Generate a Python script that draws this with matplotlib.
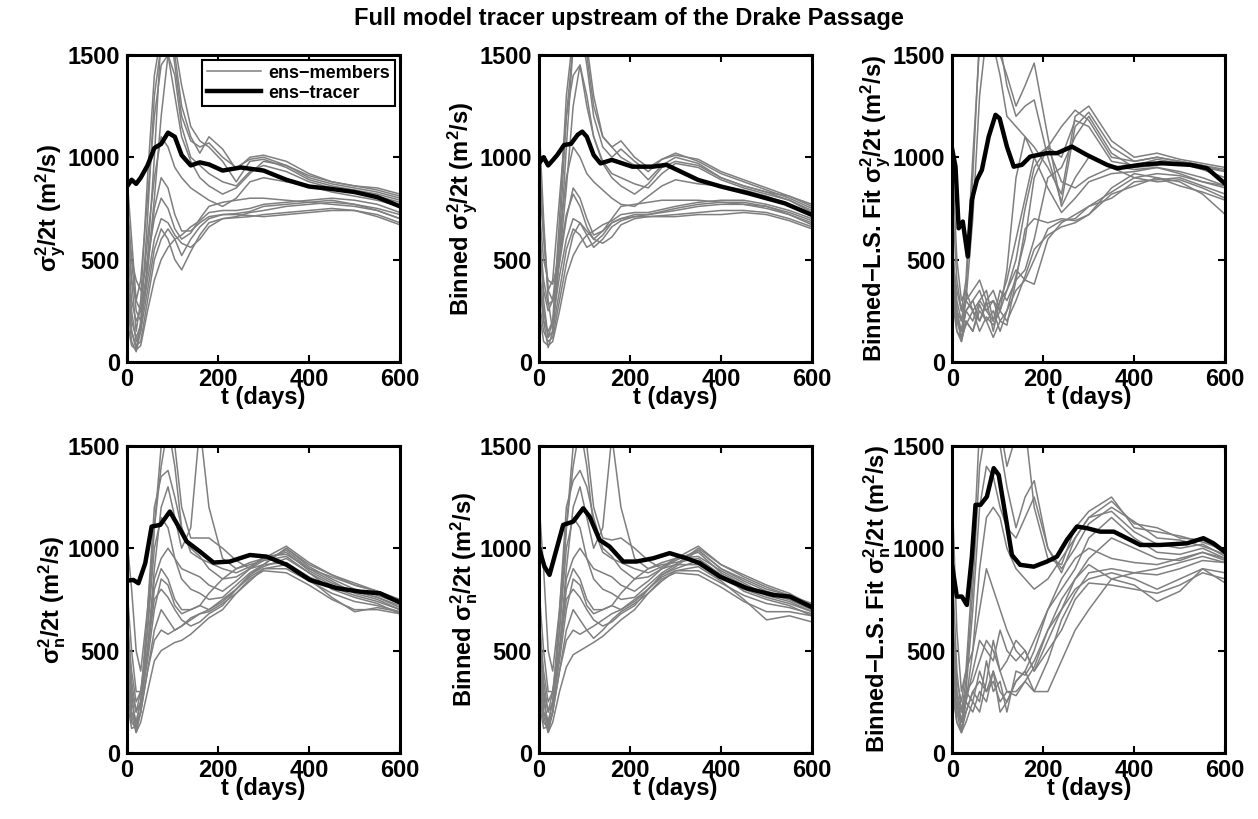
import matplotlib.pyplot as plt
import numpy as np

plt.rcParams['font.family'] = ['Liberation Sans', 'DejaVu Sans']
plt.rcParams['font.weight'] = 'bold'
plt.rcParams['mathtext.fontset'] = 'custom'
plt.rcParams['mathtext.default'] = 'bf'
plt.rcParams['mathtext.bf'] = 'Liberation Sans:bold'
plt.rcParams['mathtext.rm'] = 'Liberation Sans:bold'
plt.rcParams['mathtext.it'] = 'Liberation Sans:bold'

# common time grid of the ensemble members (days)
t_ens = [0, 10, 20, 30, 45, 60, 75, 90, 105, 120, 140, 160, 180, 210, 240, 270, 300, 350, 400, 450, 500, 550, 600]

# sigma_y^2/2t, ensemble members
ens_sy = [
    [700, 400, 150, 300, 900, 1400, 1600, 1700, 1450, 1200, 1080, 1050, 1070, 1000, 950, 990, 1000, 960, 900, 870, 850, 830, 800],
    [400, 150, 60, 200, 700, 1300, 1550, 1600, 1500, 1250, 1100, 1020, 1100, 1040, 940, 1000, 1010, 980, 920, 880, 860, 840, 810],
    [300, 100, 50, 150, 500, 1000, 1600, 1650, 1550, 1350, 1150, 1080, 1050, 980, 880, 980, 990, 950, 890, 860, 840, 820, 790],
    [800, 500, 250, 200, 450, 800, 1200, 1500, 1400, 1150, 1000, 960, 920, 880, 860, 930, 960, 930, 880, 850, 830, 810, 780],
    [600, 300, 200, 250, 600, 900, 1100, 1050, 950, 900, 850, 820, 790, 760, 800, 880, 900, 880, 860, 830, 810, 790, 760],
    [500, 250, 100, 150, 350, 550, 650, 600, 500, 450, 540, 620, 680, 700, 710, 730, 740, 760, 770, 780, 770, 740, 700],
    [350, 150, 80, 100, 300, 500, 600, 650, 600, 520, 600, 660, 700, 720, 725, 735, 760, 770, 780, 790, 770, 750, 720],
    [650, 400, 300, 250, 450, 750, 900, 850, 720, 640, 640, 680, 710, 720, 720, 715, 710, 720, 730, 740, 740, 710, 670],
    [200, 80, 60, 80, 250, 400, 500, 560, 600, 620, 660, 690, 730, 740, 740, 750, 770, 780, 790, 800, 790, 770, 730],
    [700, 500, 400, 350, 500, 700, 800, 750, 650, 600, 630, 700, 760, 780, 790, 800, 800, 790, 780, 770, 760, 740, 700],
    [900, 600, 300, 400, 800, 1200, 1450, 1500, 1300, 1100, 980, 900, 860, 820, 850, 920, 980, 960, 910, 880, 860, 850, 820],
    [450, 200, 120, 180, 400, 600, 700, 680, 620, 580, 560, 600, 660, 700, 705, 710, 720, 730, 740, 750, 740, 720, 680],
]

# binned sigma_y^2/2t
ens_bin_sy = [
    [1170, 700, 300, 150, 600, 1200, 1550, 1600, 1500, 1250, 1100, 1050, 1080, 1000, 950, 990, 1020, 980, 920, 880, 840, 800, 750],
    [700, 300, 120, 200, 700, 1300, 1600, 1650, 1450, 1200, 1050, 1000, 1040, 980, 930, 990, 1010, 990, 930, 890, 850, 810, 760],
    [500, 200, 70, 150, 500, 1050, 1550, 1600, 1550, 1300, 1100, 1050, 1000, 960, 890, 960, 1000, 970, 900, 860, 830, 790, 740],
    [900, 600, 350, 300, 500, 850, 1250, 1450, 1300, 1100, 980, 920, 900, 870, 850, 920, 970, 950, 890, 850, 820, 790, 730],
    [600, 350, 250, 300, 600, 900, 1050, 1000, 920, 880, 840, 800, 770, 760, 810, 860, 890, 870, 860, 840, 810, 770, 720],
    [450, 250, 120, 150, 350, 550, 650, 620, 560, 580, 620, 680, 700, 720, 720, 730, 740, 760, 770, 770, 760, 730, 690],
    [300, 150, 100, 120, 300, 480, 620, 680, 620, 560, 600, 660, 690, 710, 720, 735, 750, 770, 780, 780, 760, 720, 680],
    [650, 400, 280, 300, 480, 700, 850, 800, 700, 620, 640, 680, 700, 710, 710, 710, 710, 720, 720, 730, 720, 690, 650],
    [250, 100, 80, 100, 250, 420, 520, 580, 620, 640, 670, 690, 720, 730, 730, 745, 760, 780, 790, 790, 770, 740, 700],
    [750, 500, 400, 380, 520, 720, 820, 760, 660, 600, 640, 700, 760, 770, 780, 790, 790, 790, 780, 770, 750, 720, 670],
    [1000, 650, 350, 400, 800, 1200, 1400, 1450, 1250, 1100, 970, 900, 860, 820, 870, 950, 980, 960, 900, 860, 830, 810, 770],
    [400, 200, 150, 200, 420, 600, 700, 680, 640, 600, 580, 610, 670, 700, 710, 715, 720, 730, 740, 740, 730, 700, 660],
]

# binned least-squares fit sigma_y^2/2t
ens_fit_sy = [
    [1000, 500, 300, 350, 900, 1600, 1700, 1600, 1500, 1400, 1250, 1350, 1460, 1100, 760, 900, 1000, 960, 940, 950, 930, 900, 860],
    [800, 400, 250, 400, 1000, 1550, 1600, 1600, 1550, 1350, 1200, 1250, 1280, 1000, 780, 1150, 1220, 1050, 980, 1000, 980, 960, 930],
    [600, 250, 150, 300, 700, 1300, 1600, 1550, 1400, 1200, 1150, 1100, 1050, 950, 820, 1200, 1250, 1080, 1000, 1020, 990, 970, 950],
    [500, 200, 120, 250, 300, 350, 250, 300, 200, 250, 420, 600, 900, 1050, 1150, 1230, 1180, 1000, 980, 1000, 980, 960, 940],
    [550, 300, 200, 300, 250, 200, 300, 150, 300, 350, 500, 750, 950, 1050, 1000, 1180, 1150, 980, 960, 990, 970, 940, 900],
    [450, 200, 150, 250, 200, 300, 250, 200, 350, 300, 400, 450, 600, 900, 950, 1100, 1200, 1020, 950, 960, 980, 950, 930],
    [500, 250, 100, 200, 150, 250, 200, 250, 150, 250, 350, 400, 500, 650, 690, 700, 760, 800, 880, 890, 900, 860, 820],
    [400, 150, 120, 180, 250, 150, 220, 180, 250, 200, 300, 420, 550, 620, 660, 680, 720, 820, 860, 900, 880, 820, 720],
    [350, 200, 150, 250, 300, 200, 280, 300, 250, 350, 450, 400, 380, 600, 680, 720, 760, 830, 900, 880, 890, 850, 800],
    [300, 150, 100, 200, 150, 280, 200, 120, 200, 180, 400, 650, 700, 680, 700, 690, 720, 850, 920, 900, 860, 830, 790],
    [500, 350, 250, 300, 350, 400, 300, 350, 250, 450, 900, 1100, 1000, 850, 730, 800, 880, 920, 930, 950, 920, 880, 850],
    [450, 250, 200, 350, 250, 300, 350, 200, 300, 400, 600, 800, 1000, 1050, 880, 850, 900, 950, 900, 920, 910, 880, 860],
]

# sigma_n^2/2t
ens_sn = [
    [1040, 800, 500, 400, 700, 1100, 1500, 1650, 1500, 1200, 1050, 1050, 1050, 1000, 940, 900, 920, 1000, 920, 870, 820, 790, 740],
    [700, 300, 100, 200, 600, 1100, 1400, 1600, 1400, 1100, 980, 950, 930, 900, 880, 910, 950, 1010, 930, 870, 830, 790, 750],
    [500, 200, 150, 250, 700, 1200, 1350, 1380, 1250, 1100, 1000, 960, 900, 850, 860, 900, 940, 990, 900, 860, 820, 790, 740],
    [300, 150, 120, 200, 500, 900, 1200, 1300, 1150, 1000, 1100, 1600, 1200, 950, 900, 930, 950, 980, 890, 830, 790, 760, 720],
    [600, 350, 200, 300, 600, 1000, 1150, 1100, 950, 850, 800, 780, 750, 760, 820, 880, 920, 930, 860, 810, 770, 740, 700],
    [450, 250, 150, 250, 450, 700, 850, 820, 720, 680, 700, 720, 700, 740, 800, 860, 900, 900, 840, 780, 740, 720, 690],
    [400, 200, 130, 200, 400, 600, 700, 650, 600, 620, 660, 680, 690, 730, 780, 850, 890, 880, 820, 750, 700, 700, 680],
    [350, 180, 100, 150, 300, 450, 500, 520, 540, 550, 580, 620, 660, 700, 780, 840, 900, 920, 850, 760, 690, 710, 690],
    [800, 500, 300, 300, 500, 800, 900, 850, 750, 700, 700, 720, 780, 850, 900, 920, 940, 960, 880, 820, 790, 760, 710],
    [650, 400, 250, 300, 500, 850, 950, 1000, 950, 900, 880, 860, 820, 790, 840, 900, 960, 970, 900, 840, 780, 750, 700],
    [550, 300, 200, 250, 500, 750, 800, 760, 700, 650, 620, 640, 680, 720, 800, 870, 910, 950, 880, 800, 760, 730, 680],
    [250, 120, 130, 200, 400, 550, 600, 580, 600, 620, 650, 680, 700, 750, 800, 870, 920, 1000, 910, 850, 800, 770, 730],
]

# binned sigma_n^2/2t
ens_bin_sn = [
    [1220, 900, 500, 400, 700, 1100, 1500, 1650, 1500, 1200, 1050, 1040, 1050, 1000, 940, 900, 920, 1000, 920, 870, 820, 780, 720],
    [700, 300, 100, 200, 600, 1100, 1400, 1600, 1400, 1100, 980, 950, 930, 900, 880, 910, 950, 1010, 920, 860, 810, 770, 730],
    [500, 200, 150, 250, 700, 1200, 1330, 1380, 1300, 1150, 1000, 960, 900, 850, 860, 900, 940, 990, 900, 850, 800, 770, 720],
    [300, 150, 120, 200, 500, 900, 1200, 1300, 1150, 1000, 1100, 1550, 1200, 950, 900, 930, 950, 980, 880, 820, 780, 750, 700],
    [600, 350, 200, 300, 600, 1000, 1150, 1100, 950, 850, 800, 780, 750, 760, 820, 880, 920, 920, 850, 800, 760, 730, 690],
    [450, 250, 150, 250, 450, 700, 850, 820, 720, 680, 700, 720, 700, 740, 800, 860, 890, 890, 830, 770, 730, 710, 680],
    [400, 200, 130, 200, 400, 600, 700, 650, 600, 560, 600, 650, 690, 730, 780, 850, 880, 870, 810, 740, 690, 690, 670],
    [350, 180, 100, 150, 300, 420, 480, 500, 520, 540, 570, 610, 650, 700, 780, 840, 890, 910, 840, 750, 650, 670, 640],
    [800, 500, 300, 300, 500, 800, 900, 850, 750, 700, 700, 720, 780, 850, 900, 920, 930, 950, 870, 810, 780, 750, 700],
    [650, 400, 250, 300, 500, 850, 950, 1000, 950, 900, 880, 860, 820, 790, 840, 900, 950, 960, 890, 830, 770, 740, 690],
    [550, 300, 200, 250, 500, 750, 800, 760, 700, 650, 620, 640, 680, 720, 800, 870, 900, 940, 870, 790, 750, 720, 670],
    [250, 120, 130, 200, 400, 550, 600, 580, 600, 620, 650, 680, 700, 750, 800, 870, 910, 990, 900, 840, 790, 760, 710],
]

# binned least-squares fit sigma_n^2/2t
ens_fit_sn = [
    [1250, 600, 300, 400, 900, 1600, 1700, 1600, 1500, 1300, 1100, 1250, 1330, 1000, 880, 1050, 1150, 1230, 1120, 1100, 1050, 1040, 980],
    [900, 400, 200, 350, 800, 1400, 1600, 1650, 1600, 1400, 1550, 1600, 1200, 950, 920, 1100, 1180, 1250, 1100, 1080, 1060, 1030, 990],
    [700, 300, 150, 300, 700, 1200, 1400, 1350, 1200, 1100, 1050, 1150, 1250, 1000, 900, 1000, 1120, 1200, 1130, 1050, 1040, 1010, 970],
    [600, 250, 150, 250, 500, 900, 1150, 1200, 1150, 1000, 900, 850, 800, 850, 950, 1050, 1150, 1180, 1080, 1020, 1000, 1020, 960],
    [500, 200, 100, 200, 300, 350, 300, 400, 300, 250, 350, 400, 500, 700, 800, 900, 1050, 1150, 1050, 980, 970, 1000, 950],
    [400, 200, 150, 300, 250, 400, 300, 350, 250, 300, 300, 350, 420, 600, 750, 850, 950, 1050, 1000, 950, 940, 980, 940],
    [350, 150, 100, 250, 200, 300, 250, 400, 200, 250, 350, 400, 300, 450, 650, 780, 880, 900, 880, 870, 900, 940, 930],
    [450, 250, 120, 200, 300, 250, 450, 300, 350, 200, 400, 380, 450, 600, 700, 800, 850, 880, 850, 800, 850, 900, 880],
    [300, 150, 100, 150, 250, 200, 350, 550, 400, 300, 280, 350, 300, 300, 450, 600, 700, 850, 820, 740, 790, 900, 830],
    [550, 300, 200, 300, 350, 450, 550, 500, 400, 450, 550, 500, 400, 550, 700, 850, 920, 850, 880, 900, 930, 960, 930],
    [650, 350, 250, 400, 500, 700, 900, 800, 700, 600, 500, 450, 550, 700, 850, 950, 1000, 950, 930, 920, 950, 980, 950],
    [400, 200, 150, 250, 400, 550, 500, 450, 600, 500, 450, 500, 400, 500, 600, 750, 830, 820, 800, 780, 820, 880, 850],
]

# ensemble tracer (thick black lines), each with its own time samples
t_tr_sy = [0, 10, 20, 30, 45, 60, 75, 90, 105, 120, 140, 160, 180, 210, 250, 300, 350, 400, 450, 500, 550, 600]
tr_sy = [857, 890, 870, 900, 960, 1045, 1065, 1120, 1100, 1010, 960, 975, 965, 935, 950, 935, 890, 857, 845, 830, 805, 760]
t_tr_bin_sy = [0, 10, 20, 30, 40, 55, 70, 85, 95, 105, 120, 135, 160, 205, 250, 280, 350, 400, 460, 540, 600]
tr_bin_sy = [970, 1000, 960, 985, 1011, 1060, 1065, 1110, 1125, 1100, 1011, 970, 987, 954, 954, 963, 889, 857, 824, 775, 718]
t_tr_fit_sy = [0, 7, 14, 23, 34, 43, 54, 65, 80, 95, 104, 120, 135, 153, 171, 208, 230, 263, 296, 340, 362, 413, 457, 523, 560, 600]
tr_fit_sy = [1036, 954, 653, 686, 515, 792, 889, 938, 1101, 1207, 1190, 1052, 954, 963, 1003, 1020, 1020, 1052, 1011, 963, 946, 963, 971, 963, 946, 870]
t_tr_sn = [0, 14, 25, 40, 54, 73, 94, 109, 131, 160, 190, 226, 270, 307, 351, 402, 461, 512, 556, 600]
tr_sn = [842, 845, 829, 927, 1106, 1114, 1179, 1122, 1033, 984, 930, 935, 967, 959, 919, 845, 805, 788, 780, 735]
t_tr_bin_sn = [0, 12, 23, 38, 53, 75, 97, 111, 133, 155, 185, 214, 251, 287, 324, 353, 397, 456, 514, 551, 600]
tr_bin_sn = [1000, 910, 870, 992, 1114, 1130, 1195, 1155, 1041, 1008, 935, 935, 951, 976, 951, 927, 862, 805, 772, 764, 712]
t_tr_fit_sn = [0, 10, 21, 32, 43, 51, 62, 76, 91, 102, 116, 131, 149, 179, 208, 230, 252, 274, 296, 325, 355, 391, 413, 457, 516, 552, 574, 600]
tr_fit_sn = [910, 764, 764, 723, 959, 1212, 1212, 1252, 1391, 1358, 1171, 967, 919, 910, 935, 959, 1041, 1106, 1098, 1081, 1081, 1041, 1016, 1016, 1024, 1049, 1024, 980]

ylabels = ['σ$_y^2$/2t (m$^2$/s)', 'Binned σ$_y^2$/2t (m$^2$/s)', 'Binned−L.S. Fit σ$_y^2$/2t (m$^2$/s)',
           'σ$_n^2$/2t (m$^2$/s)', 'Binned σ$_n^2$/2t (m$^2$/s)', 'Binned−L.S. Fit σ$_n^2$/2t (m$^2$/s)']

panels = [
    (ens_sy, t_tr_sy, tr_sy),
    (ens_bin_sy, t_tr_bin_sy, tr_bin_sy),
    (ens_fit_sy, t_tr_fit_sy, tr_fit_sy),
    (ens_sn, t_tr_sn, tr_sn),
    (ens_bin_sn, t_tr_bin_sn, tr_bin_sn),
    (ens_fit_sn, t_tr_fit_sn, tr_fit_sn),
]

fig = plt.figure(figsize=(12.58, 8.19), dpi=100)
lefts = [0.101, 0.4285, 0.757]
bottoms = [0.558, 0.0806]
w, h = 0.217, 0.375

for i, (ens, t_tr, tr) in enumerate(panels):
    ax = fig.add_axes([lefts[i % 3], bottoms[i // 3], w, h])
    for row in ens:
        g, = ax.plot(t_ens, row, color='#7f7f7f', lw=1.1)
    k, = ax.plot(t_tr, tr, color='k', lw=3.2)
    ax.set_xlim(0, 600)
    ax.set_ylim(0, 1500)
    ax.set_xticks([0, 200, 400, 600])
    ax.set_yticks([0, 500, 1000, 1500])
    ax.tick_params(direction='in', top=True, right=True, length=5, width=1.5,
                   labelsize=17)
    ax.tick_params(axis='x', pad=4)
    ax.tick_params(axis='y', pad=5)
    for s in ax.spines.values():
        s.set_linewidth(2.2)
    ax.set_xlabel('t (days)', fontsize=17, fontweight='bold', labelpad=-3)
    ax.set_ylabel(ylabels[i], fontsize=17, fontweight='bold', labelpad=0)
    if i == 0:
        leg = ax.legend([g, k], ['ens−members', 'ens−tracer'], loc='upper right',
                        fontsize=13, fancybox=False, edgecolor='k', framealpha=1,
                        borderaxespad=0.3, handlelength=3.0, borderpad=0.25,
                        labelspacing=0.15, handletextpad=0.4)
        leg.get_frame().set_linewidth(1.5)

fig.text(0.5, 0.977, 'Full model tracer upstream of the Drake Passage',
         ha='center', va='center', fontsize=17, fontweight='bold')

plt.savefig('out.png', dpi=100)
